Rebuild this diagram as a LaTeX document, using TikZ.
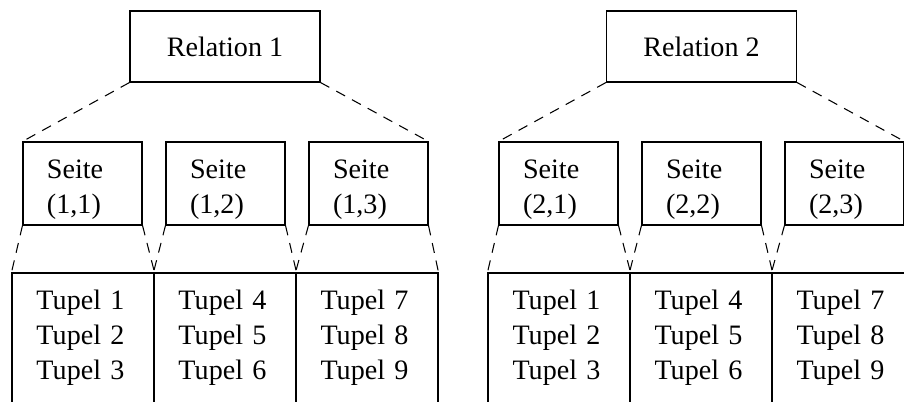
\documentclass[tikz,border=0pt]{standalone}
\usepackage{fontspec}
\setmainfont{Liberation Serif}

\begin{document}
\begin{tikzpicture}[scale=0.2]
\tikzstyle{every node}+=[inner sep=0pt, font=\fontsize{16}{19.8}\selectfont]
\tikzstyle{relbox}=[draw, line width=0.6pt, minimum width=3.8cm, minimum height=1.42cm]
\tikzstyle{seitebox}=[draw, line width=0.6pt, minimum width=2.38cm, minimum height=1.66cm, text width=1.42cm, align=left]
\tikzstyle{tupelbox}=[draw, line width=0.6pt, minimum width=2.84cm, minimum height=2.6cm, text width=1.86cm, align=left]
\tikzstyle{link}=[line width=0.6pt, dash pattern=on 5.7pt off 4.5pt]
\newcommand{\seitetop}{\rule{0pt}{18pt}}
\useasboundingbox (0,0) rectangle (90.4,-40.3);
\clip (0,0) rectangle (90.4,-40.1);
% Relation 1
\node [relbox] (rel1) at (22.5,-4.65) {Relation 1};
\node [seitebox] (s11) at (8.25,-18.35) {\seitetop Seite\\(1,1)};
\node [seitebox] (s12) at (22.55,-18.35) {\seitetop Seite\\(1,2)};
\node [seitebox] (s13) at (36.85,-18.35) {\seitetop Seite\\(1,3)};
\node [tupelbox] (t11) at (8.3,-33.8) {Tupel 1\\Tupel 2\\Tupel 3};
\node [tupelbox] (t12) at (22.5,-33.8) {Tupel 4\\Tupel 5\\Tupel 6};
\node [tupelbox] (t13) at (36.7,-33.8) {Tupel 7\\Tupel 8\\Tupel 9};
\draw [link] (rel1.south west) -- (s11.north west);
\draw [link] (rel1.south east) -- (s13.north east);
\draw [link] (s11.south west) -- (t11.north west);
\draw [link] (s11.south east) -- (t11.north east);
\draw [link] (s12.south west) -- (t12.north west);
\draw [link] (s12.south east) -- (t12.north east);
\draw [link] (s13.south west) -- (t13.north west);
\draw [link] (s13.south east) -- (t13.north east);
% Relation 2
\node [relbox] (rel2) at (70.15,-4.65) {Relation 2};
\node [seitebox] (s21) at (55.85,-18.35) {\seitetop Seite\\(2,1)};
\node [seitebox] (s22) at (70.15,-18.35) {\seitetop Seite\\(2,2)};
\node [seitebox] (s23) at (84.45,-18.35) {\seitetop Seite\\(2,3)};
\node [tupelbox] (t21) at (55.9,-33.8) {Tupel 1\\Tupel 2\\Tupel 3};
\node [tupelbox] (t22) at (70.1,-33.8) {Tupel 4\\Tupel 5\\Tupel 6};
\node [tupelbox] (t23) at (84.3,-33.8) {Tupel 7\\Tupel 8\\Tupel 9};
\draw [link] (rel2.south west) -- (s21.north west);
\draw [link] (rel2.south east) -- (s23.north east);
\draw [link] (s21.south west) -- (t21.north west);
\draw [link] (s21.south east) -- (t21.north east);
\draw [link] (s22.south west) -- (t22.north west);
\draw [link] (s22.south east) -- (t22.north east);
\draw [link] (s23.south west) -- (t23.north west);
\draw [link] (s23.south east) -- (t23.north east);
\end{tikzpicture}
\end{document}
